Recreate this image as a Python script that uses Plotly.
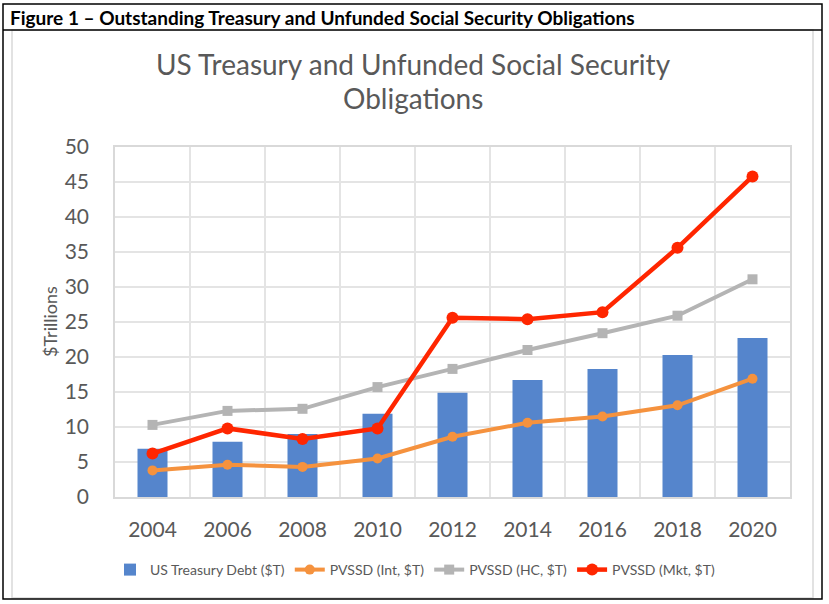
import plotly.graph_objects as go

years = ["2004", "2006", "2008", "2010", "2012", "2014", "2016", "2018", "2020"]
treasury_debt = [6.9, 7.9, 9.0, 11.9, 14.9, 16.7, 18.3, 20.3, 22.7]
pvssd_int = [3.8, 4.6, 4.3, 5.5, 8.6, 10.6, 11.5, 13.1, 16.9]
pvssd_hc = [10.3, 12.3, 12.6, 15.7, 18.3, 21.0, 23.4, 25.9, 31.1]
pvssd_mkt = [6.2, 9.8, 8.3, 9.8, 25.6, 25.4, 26.4, 35.6, 45.8]
y_ticks = [0, 5, 10, 15, 20, 25, 30, 35, 40, 45, 50]

W, H = 829, 604
L, R, T, B = 115, 790, 147, 497

def px(x):
    return (x - L) / (R - L)

def py(y):
    return (B - y) / (B - T)

FONT = "Lato"
GRAY_TXT = "#595959"

fig = go.Figure()
fig.add_trace(go.Bar(x=years, y=treasury_debt, name="US Treasury Debt ($T)",
                     marker=dict(color="#5585CC", line=dict(width=0)), width=0.4))
fig.add_trace(go.Scatter(x=years, y=pvssd_int, name="PVSSD (Int, $T)", mode="lines+markers",
                         line=dict(color="#F5923E", width=4),
                         marker=dict(symbol="circle", size=10, color="#F5923E")))
fig.add_trace(go.Scatter(x=years, y=pvssd_hc, name="PVSSD (HC, $T)", mode="lines+markers",
                         line=dict(color="#B4B4B4", width=4),
                         marker=dict(symbol="square", size=10, color="#B4B4B4")))
fig.add_trace(go.Scatter(x=years, y=pvssd_mkt, name="PVSSD (Mkt, $T)", mode="lines+markers",
                         line=dict(color="#FF2600", width=4.5),
                         marker=dict(symbol="circle", size=12, color="#FF2600")))

fig.update_layout(
    width=W, height=H,
    margin=dict(l=L, r=W - R, t=T, b=H - B, autoexpand=False),
    paper_bgcolor="white", plot_bgcolor="white",
    font=dict(family=FONT, color=GRAY_TXT),
    showlegend=True,
    legend=dict(orientation="h", x=px(415), xanchor="center", y=py(570), yanchor="middle",
                font=dict(family=FONT, size=14, color=GRAY_TXT), bgcolor="rgba(0,0,0,0)",
                itemwidth=30, tracegroupgap=0),
    xaxis=dict(type="category", tickson="boundaries", showgrid=True, gridcolor="#E4E4E4", gridwidth=1.5,
               showline=True, linecolor="#D9D9D9", linewidth=1.5, mirror=True,
               ticks="", tickfont=dict(family=FONT, size=21, color=GRAY_TXT),
               ticklabelstandoff=13, range=[-0.5, 8.5]),
    yaxis=dict(range=[0, 50], tickvals=y_ticks, showgrid=True, gridcolor="#E4E4E4", gridwidth=1.5,
               showline=True, linecolor="#D9D9D9", linewidth=1.5, mirror=True, zeroline=False,
               ticks="", tickfont=dict(family=FONT, size=21, color=GRAY_TXT),
               ticklabelstandoff=20),
)

fig.add_annotation(text="US Treasury and Unfunded Social Security", xref="paper", yref="paper",
                   x=px(413), y=py(64), xanchor="center", yanchor="middle", showarrow=False,
                   font=dict(family=FONT, size=28, color=GRAY_TXT))
fig.add_annotation(text="Obligations", xref="paper", yref="paper",
                   x=px(413), y=py(98), xanchor="center", yanchor="middle", showarrow=False,
                   font=dict(family=FONT, size=28, color=GRAY_TXT))
fig.add_annotation(text="$Trillions", xref="paper", yref="paper", x=px(50), y=py(322),
                   textangle=-90, showarrow=False, font=dict(family=FONT, size=18, color=GRAY_TXT),
                   xanchor="center", yanchor="middle")
fig.add_annotation(text="<b>Figure 1 – Outstanding Treasury and Unfunded Social Security Obligations</b>",
                   xref="paper", yref="paper", x=px(8), y=py(17), xanchor="left", yanchor="middle",
                   showarrow=False, font=dict(family=FONT, size=19, color="black"))

# Frames
fig.add_shape(type="rect", xref="paper", yref="paper", x0=px(12), x1=px(813), y0=py(598), y1=py(30),
              line=dict(color="#D9D9D9", width=1.5), layer="below")
fig.add_shape(type="rect", xref="paper", yref="paper", x0=px(3), x1=px(822), y0=py(599), y1=py(4),
              line=dict(color="black", width=1.5))
fig.add_shape(type="line", xref="paper", yref="paper", x0=px(3), x1=px(822), y0=py(30), y1=py(30),
              line=dict(color="black", width=1.5))

fig.write_html("out.html")
